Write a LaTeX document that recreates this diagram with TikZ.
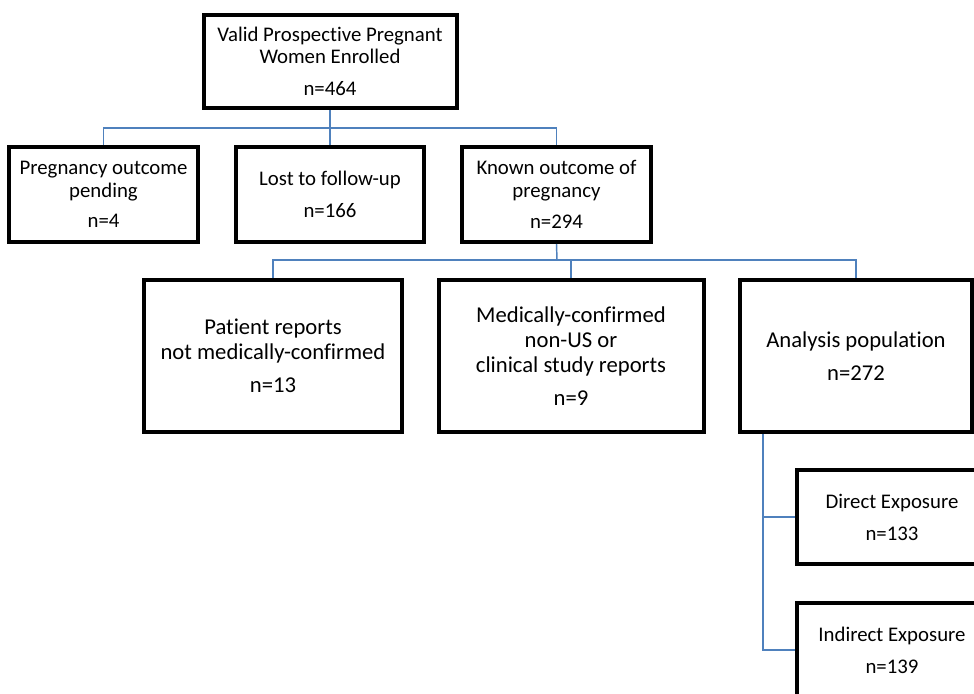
\documentclass[tikz,border=0pt]{standalone}
\usepackage{fontspec}
\setmainfont[Ligatures=NoCommon]{Carlito}
\definecolor{conn}{RGB}{79,129,189}
\begin{document}
\begin{tikzpicture}[x=0.75pt,y=-0.75pt,
  box/.style={draw=black, line width=3pt, inner sep=0pt, align=center, fill=white},
  sm/.style={font=\fontsize{15.6pt}{17pt}\selectfont},
  lg/.style={font=\fontsize{17pt}{18.75pt}\selectfont},
  link/.style={draw=conn, line width=1.1pt}]
\useasboundingbox (0,0) rectangle (974,693);
\clip (0,0) rectangle (974,693);
\fill[white] (0,0) rectangle (974,693);

\node[box,sm,minimum width=253*0.75pt,minimum height=93*0.75pt] (top) at (330,61.5)
  {Valid Prospective Pregnant\\Women Enrolled\\[7pt]n=464};

\node[box,sm,minimum width=189*0.75pt,minimum height=95*0.75pt] (p1) at (103.5,194.5)
  {Pregnancy outcome\\pending\\[6pt]n=4};
\node[box,sm,minimum width=188*0.75pt,minimum height=95*0.75pt] (p2) at (330,194.5)
  {Lost to follow-up\\[7pt]n=166};
\node[box,sm,minimum width=189*0.75pt,minimum height=95*0.75pt] (p3) at (556.5,194.5)
  {Known outcome of\\pregnancy\\[6pt]n=294};

\node[box,lg,minimum width=258*0.75pt,minimum height=152*0.75pt] (r1) at (273,356)
  {Patient reports\\not medically-confirmed\\[6pt]n=13};
\node[box,lg,minimum width=265*0.75pt,minimum height=152*0.75pt] (r2) at (571,356)
  {Medically-confirmed\\non-US or\\clinical study reports\\[6pt]n=9};
\node[box,lg,minimum width=232*0.75pt,minimum height=152*0.75pt] (r3) at (856,356)
  {Analysis population\\[6pt]n=272};

\node[box,sm,minimum width=190*0.75pt,minimum height=94*0.75pt] (d1) at (892,517)
  {Direct Exposure\\[7pt]n=133};
\node[box,sm,minimum width=190*0.75pt,minimum height=94*0.75pt] (d2) at (892,650)
  {Indirect Exposure\\[7pt]n=139};

\coordinate (bus1) at (330,128);
\coordinate (bus2) at (557,260);
\coordinate (trunk) at ([xshift=18.75pt]r3.south west);

\path[link] (top.south) -- (bus1);
\path[link] (p1.north) |- (bus1) -| (p3.north);
\path[link] (bus1) -- (p2.north);
\path[link] (p3.south) -- (bus2);
\path[link] (r1.north) |- (bus2) -| (r3.north);
\path[link] (r2.north) |- (bus2);
\path[link] (trunk) |- (d2.west);
\path[link] (d1.west) -| (trunk);
\end{tikzpicture}
\end{document}
